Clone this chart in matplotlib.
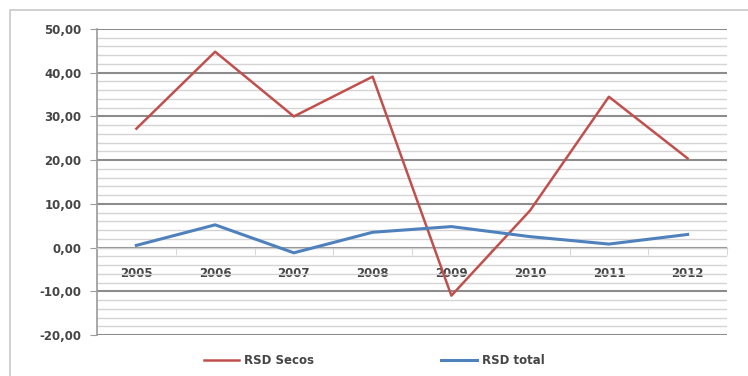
import numpy as np
import matplotlib
matplotlib.use("Agg")
import matplotlib.pyplot as plt
from matplotlib.patches import Rectangle
from matplotlib.ticker import MultipleLocator, FuncFormatter

anos = ["2005", "2006", "2007", "2008", "2009", "2010", "2011", "2012"]
rsd_secos = [27.2, 44.8, 30.0, 39.1, -11.0, 8.5, 34.5, 20.4]
rsd_total = [0.5, 5.2, -1.2, 3.5, 4.8, 2.5, 0.8, 3.0]

plt.rcParams['font.family'] = ['DejaVu Sans']
FS = 8.5
TXT = "#454545"

fig = plt.figure(figsize=(7.48, 3.76), dpi=100)
fig.patch.set_facecolor("white")

# chart border (open on right/bottom edges)
fig.patches.append(Rectangle((10 / 748, -0.05), 1.0, 1 - 10 / 376 + 0.05,
                             transform=fig.transFigure, fill=False,
                             edgecolor="#c8c8c8", lw=1.2))

ax = fig.add_axes([97 / 748, 1 - 335 / 376, (727 - 97) / 748, (335 - 29) / 376])

x = np.arange(len(anos))
ax.plot(x, rsd_secos, color="#c0504d", lw=1.8, label="RSD Secos", zorder=3)
ax.plot(x, rsd_total, color="#4f81bd", lw=2.2, label="RSD total", zorder=3)

ax.set_xlim(-0.5, len(anos) - 0.5)
ax.set_ylim(-20, 50)

ax.yaxis.set_major_locator(MultipleLocator(10))
ax.yaxis.set_minor_locator(MultipleLocator(2))
ax.yaxis.set_major_formatter(FuncFormatter(lambda v, p: f"{v:.2f}".replace(".", ",")))
ax.grid(which="major", axis="y", color="#8c8c8c", lw=1.5)
ax.grid(which="minor", axis="y", color="#d4d4d4", lw=1.0)
ax.set_axisbelow(True)

for s in ["top", "right"]:
    ax.spines[s].set_visible(False)
ax.spines["left"].set_color("#9a9a9a")
ax.spines["left"].set_linewidth(1.2)
ax.spines["bottom"].set_position(("data", 0))
ax.spines["bottom"].set_color("#d0d0d0")
ax.spines["bottom"].set_linewidth(1.0)

ax.tick_params(axis="y", which="major", length=5, color="#9a9a9a", pad=6,
               labelsize=FS, labelcolor=TXT)
ax.tick_params(axis="y", which="minor", length=0)

ax.set_xticks(x)
ax.set_xticklabels(anos)
ax.set_xticks(np.arange(-0.5, len(anos)), minor=True)
ax.tick_params(axis="x", which="major", length=0, pad=14,
               labelsize=FS, labelcolor=TXT)
ax.tick_params(axis="x", which="minor", length=5, color="#d0d0d0")
for lbl in ax.get_xticklabels() + ax.get_yticklabels():
    lbl.set_fontweight("bold")

leg = fig.legend(loc="center", bbox_to_anchor=(0.5, 1 - 361 / 376), ncol=2,
                 frameon=False, fontsize=FS, handlelength=3.0,
                 handletextpad=0.4, columnspacing=10.8)
for t in leg.get_texts():
    t.set_color(TXT)
    t.set_fontweight("bold")

fig.savefig("out.png", dpi=100)
